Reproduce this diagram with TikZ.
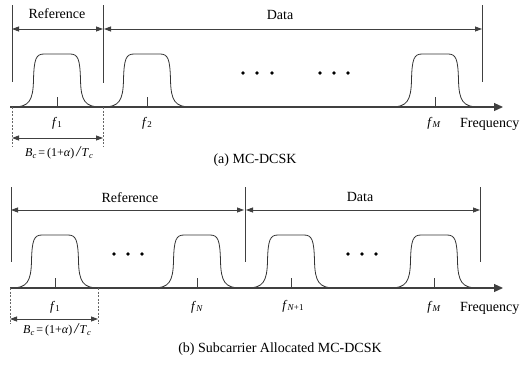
\documentclass[tikz,border=0pt]{standalone}
\usepackage{fontspec}
\setmainfont{Liberation Serif}
\usetikzlibrary{arrows.meta}
\newcommand\sub[1]{\raisebox{-1.5pt}{\fontsize{9}{9}\selectfont #1}}
\newcommand\freqlab[1]{\textit{f}\sub{#1}}
\newcommand\bclab{\fontsize{12}{13}\selectfont\textit{B}\raisebox{-2pt}{\fontsize{8.5}{8.5}\selectfont\textit{c}}\,=\,(1+\textit{α})\,\fontsize{15}{15}\selectfont\textit{/}\fontsize{12}{13}\selectfont\textit{T}\raisebox{-2pt}{\fontsize{8.5}{8.5}\selectfont\textit{c}}}
\begin{document}
\begin{tikzpicture}[x=1pt,y=-1pt,
  line/.style={draw=black!75, line width=0.8pt},
  dimarrow/.style={line, {Triangle[length=7pt,width=5pt]}-{Triangle[length=7pt,width=5pt]}},
  axisline/.style={draw=black!75, line width=1.2pt, -{Triangle[length=9pt,width=8pt]}},
  pulseline/.style={draw=black!80, line width=0.8pt},
  dashline/.style={draw=black!60, line width=0.6pt, dash pattern=on 2pt off 1.5pt},
  lab/.style={font=\fontsize{14}{16}\selectfont, inner sep=0pt},
  flab/.style={font=\fontsize{13}{14}\selectfont, inner sep=0pt}
]
\useasboundingbox (0,0) rectangle (520,365);
\newcommand\pulse[2]{%
  \draw[pulseline] (#1-44,#2) .. controls (#1-28,#2) and (#1-24,#2-6) .. (#1-23.5,#2-27)
    .. controls (#1-23,#2-48) and (#1-21,#2-53) .. (#1-13,#2-53) -- (#1+13,#2-53)
    .. controls (#1+21,#2-53) and (#1+23,#2-48) .. (#1+23.5,#2-27)
    .. controls (#1+24,#2-6) and (#1+28,#2) .. (#1+44,#2);
  \draw[line] (#1,#2-10) -- (#1,#2);}

% ================= (a) =================
\coordinate (a1t) at (12,5);   \coordinate (a1b) at (12,82);
\coordinate (a2t) at (103,5);  \coordinate (a2b) at (103,83);
\coordinate (a3t) at (482,5);  \coordinate (a3b) at (482,82);
\draw[line] (a1t) -- (a1b);
\draw[line] (a2t) -- (a2b);
\draw[line] (a3t) -- (a3b);
\coordinate (ar1) at (12,29); \coordinate (ar2) at (103,29);
\coordinate (ad1) at (104,29); \coordinate (ad2) at (482,29);
\draw[dimarrow] (ar1) -- (ar2);
\draw[dimarrow] (ad1) -- (ad2);
\node[lab] (aref) at (57,14) {Reference};
\node[lab] (adata) at (280,15) {Data};

\coordinate (ax0) at (10,107); \coordinate (ax1) at (503,107);
\pulse{57}{107}
\pulse{147}{107}
\pulse{435}{107}
\draw[axisline] (ax0) -- (ax1);
\foreach \d in {243,257,272,320,334,348} \fill[black] (\d,73) circle (1.8pt);
\node[flab] (af1) at (57,123) {\freqlab{1}};
\node[flab] (af2) at (147,123) {\freqlab{2}};
\node[flab] (afM) at (434,123) {\freqlab{\textit{M}}};
\node[lab, anchor=west] (afreq) at (460,124) {Frequency};

\coordinate (ad1t) at (12,107); \coordinate (ad1b) at (12,147);
\coordinate (ad2t) at (103,107); \coordinate (ad2b) at (103,147);
\draw[dashline] (ad1t) -- (ad1b);
\draw[dashline] (ad2t) -- (ad2b);
\coordinate (abc1) at (12,138); \coordinate (abc2) at (103,138);
\draw[dimarrow] (abc1) -- (abc2);
\node[inner sep=0pt] (abc) at (59,153) {\bclab};
\node[lab] (acap) at (255,160) {(a) MC-DCSK};

% ================= (b) =================
\coordinate (b1t) at (11,187);  \coordinate (b1b) at (11,262);
\coordinate (b2t) at (245,187); \coordinate (b2b) at (245,262);
\coordinate (b3t) at (480,187); \coordinate (b3b) at (480,262);
\draw[line] (b1t) -- (b1b);
\draw[line] (b2t) -- (b2b);
\draw[line] (b3t) -- (b3b);
\coordinate (br1) at (11,210); \coordinate (br2) at (244,210);
\coordinate (bd1) at (246,210); \coordinate (bd2) at (480,210);
\draw[dimarrow] (br1) -- (br2);
\draw[dimarrow] (bd1) -- (bd2);
\node[lab] (bref) at (130,198) {Reference};
\node[lab] (bdata) at (360,197) {Data};

\coordinate (bx0) at (10,288); \coordinate (bx1) at (503,288);
\pulse{55}{288}
\pulse{197}{288}
\pulse{291}{288}
\pulse{434}{288}
\draw[axisline] (bx0) -- (bx1);
\foreach \d in {114,128,142,348,362,376} \fill[black] (\d,254) circle (1.8pt);
\node[flab] (bf1) at (55,307) {\freqlab{1}};
\node[flab] (bfN) at (197,307) {\freqlab{\textit{N}}};
\node[flab] (bfN1) at (293,306) {\freqlab{\textit{N}+1}};
\node[flab] (bfM) at (434,307) {\freqlab{\textit{M}}};
\node[lab, anchor=west] (bfreq) at (460,308) {Frequency};

\coordinate (bd1t) at (10,288); \coordinate (bd1b) at (10,324);
\coordinate (bd2t) at (98,288); \coordinate (bd2b) at (98,324);
\draw[dashline] (bd1t) -- (bd1b);
\draw[dashline] (bd2t) -- (bd2b);
\coordinate (bbc1) at (10,319); \coordinate (bbc2) at (98,319);
\draw[dimarrow] (bbc1) -- (bbc2);
\node[inner sep=0pt] (bbc) at (57,330) {\bclab};
\node[lab] (bcap) at (280,349) {(b) Subcarrier Allocated MC-DCSK};
\end{tikzpicture}
\end{document}
